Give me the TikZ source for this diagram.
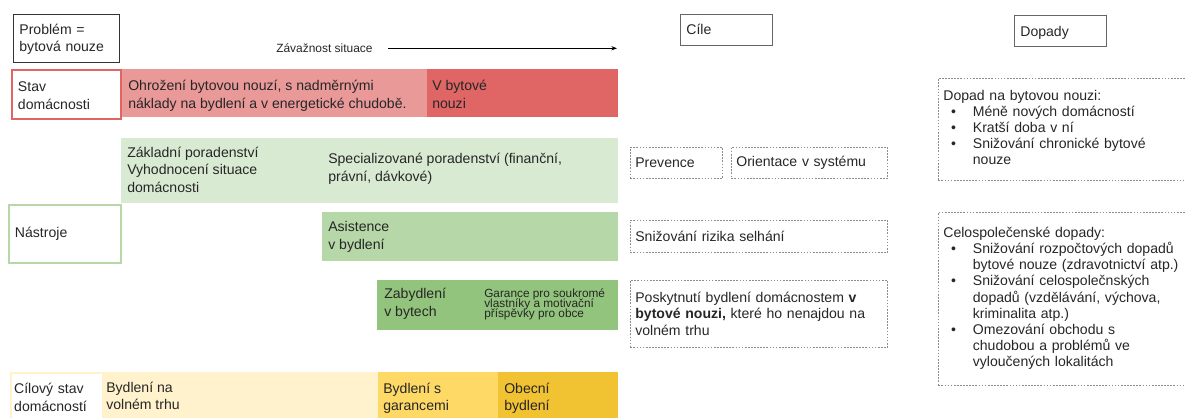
\documentclass[tikz,border=0pt]{standalone}
\usepackage{fontspec}
\setmainfont{Liberation Sans}
\usetikzlibrary{arrows.meta}

\definecolor{redlight}{HTML}{EA9999}
\definecolor{reddark}{HTML}{E06666}
\definecolor{greenlight}{HTML}{D9EAD3}
\definecolor{greenmid}{HTML}{B6D7A8}
\definecolor{greendark}{HTML}{93C47D}
\definecolor{yellowlight}{HTML}{FFF2CC}
\definecolor{yellowmid}{HTML}{FFD966}
\definecolor{yellowdark}{HTML}{F1C232}

\newcommand{\tightlines}{\lineskiplimit=-10pt\relax}

\begin{document}
\begin{tikzpicture}[
  x=0.025cm, y=-0.025cm,
  lbox/.style = {draw, anchor=north west, inner xsep=0.15cm, inner ysep=0pt,
                 align=left, text=black!85, font=\fontsize{10}{12.2}\selectfont},
  dbox/.style = {draw=black!45, dash pattern=on 1.2pt off 1pt, line width=0.5pt,
                 anchor=north west, inner xsep=0.125cm, inner ysep=0pt,
                 align=left, text=black!85, font=\fontsize{10}{11.4}\selectfont},
  btext/.style = {anchor=base west, inner sep=0pt, align=left, text=black!85,
                  font=\fontsize{10}{12.2}\selectfont},
  arr/.style = {-{Stealth[length=4pt,width=3pt]}, line width=0.5pt}
]
  \useasboundingbox (0,0) rectangle (1185,417);

  % header
  \node[lbox, draw=black!80, line width=0.6pt, text width=2.35cm,
        text height=0.5cm, text depth=0.7cm] (problem) at (13,14) {Problém =\\bytová nouze};
  \node[btext, font=\fontsize{8.5}{10}\selectfont] (severity) at (276,52) {Závažnost situace};
  \coordinate (sevend) at (617,49);
  \draw[arr, shorten <=11pt] (severity.mid east) -- (severity.mid east -| sevend);
  \node[lbox, draw=black!60, line width=0.5pt, text width=2cm,
        text height=0.5cm, text depth=0.275cm] (goals) at (680,14) {Cíle};
  \node[lbox, draw=black!60, line width=0.5pt, text width=2cm,
        text height=0.525cm, text depth=0.25cm] (impacts) at (1014,15) {Dopady};

  % stav domacnosti
  \fill[redlight] (120,69) rectangle (427,117);
  \fill[reddark]  (427,69) rectangle (618,117);
  \node[lbox, draw=reddark, line width=1.4pt, text width=2.425cm,
        text height=0.55cm, text depth=0.675cm] (state) at (11,69) {Stav\\domácnosti};
  \node[btext] (threat) at (128,108) {Ohrožení bytovou nouzí, s nadměrnými\\náklady na bydlení a v energetické chudobě.};
  \node[btext] (crisis) at (432,108) {V bytové\\nouzi};

  % nastroje
  \fill[greenlight] (121,138) rectangle (618,203);
  \fill[greenmid]   (322,212) rectangle (618,261);
  \fill[greendark]  (377,280) rectangle (618,330);
  \node[lbox, draw=greenmid, line width=1.4pt, text width=2.5cm,
        text height=0.8cm, text depth=0.65cm] (tools) at (8,204) {Nástroje};
  \node[btext] (basic) at (127,192) {Základní poradenství\\Vyhodnocení situace\\domácnosti};
  \node[btext] (special) at (328,181) {Specializované poradenství (finanční,\\právní, dávkové)};
  \node[btext] (assist) at (328,249) {Asistence\\v bydlení};
  \node[btext] (settle) at (384,316) {Zabydlení\\v bytech};
  \node[btext, font={\fontsize{8.4}{7.1}\selectfont\tightlines}] (guarantee) at (484,317)
       {Garance pro soukromé\\vlastníky a motivační\\příspěvky pro obce};

  % cile
  \node[dbox, minimum width=2.3cm, minimum height=0.775cm, text width=2.05cm] (prevention) at (630,147) {Prevence};
  \node[dbox, minimum width=3.9cm, minimum height=0.775cm, text width=3.65cm] (orientation) at (731,147) {Orientace v systému};
  \node[dbox, minimum width=6.425cm, minimum height=0.8cm, text width=6.175cm] (risk) at (630,220) {Snižování rizika selhání};
  \node[dbox, minimum width=6.425cm, minimum height=1.675cm, text width=6.175cm,
        font=\fontsize{10}{11.8}\selectfont] (provision) at (630,280)
       {Poskytnutí bydlení domácnostem \textbf{v}\\\textbf{bytové nouzi,} které ho nenajdou na\\volném trhu};

  % dopady
  \node[dbox, minimum width=6.6cm, minimum height=2.55cm, text width=6.35cm] (impactA) at (938,78)
       {\begin{tabular}[t]{@{\hspace{5.5pt}}p{15.5pt}@{}l@{}}
        \multicolumn{2}{@{}l@{}}{Dopad na bytovou nouzi:}\\
        \textbullet & Méně nových domácností\\
        \textbullet & Kratší doba v ní\\
        \textbullet & Snižování chronické bytové\\
                    & nouze
        \end{tabular}};
  \node[dbox, minimum width=6.6cm, minimum height=4.325cm, text width=6.35cm] (impactB) at (938,212)
       {\begin{tabular}[t]{@{\hspace{5.5pt}}p{15.5pt}@{}l@{}}
        \multicolumn{2}{@{}l@{}}{Celospolečenské dopady:}\\
        \textbullet & Snižování rozpočtových dopadů\\
                    & bytové nouze (zdravotnictví atp.)\\
        \textbullet & Snižování celospolečnských\\
                    & dopadů (vzdělávání, výchova,\\
                    & kriminalita atp.)\\
        \textbullet & Omezování obchodu s\\
                    & chudobou a problémů ve\\
                    & vyloučených lokalitách
        \end{tabular}};

  % cilovy stav
  \fill[yellowlight] (102,372) rectangle (378,420);
  \fill[yellowmid]   (378,372) rectangle (498,420);
  \fill[yellowdark]  (498,372) rectangle (618,420);
  \node[lbox, draw=yellowlight, line width=1.4pt, text width=2.45cm, inner xsep=0.08cm,
        text height=0.525cm, text depth=0.75cm] (target) at (10,372) {Cílový stav\\domácností};
  \node[btext, font=\fontsize{10}{11.4}\selectfont] (market) at (106,409) {Bydlení na\\volném trhu};
  \node[btext, font=\fontsize{10}{11.4}\selectfont] (guaranteed) at (383,410) {Bydlení s\\garancemi};
  \node[btext, font=\fontsize{10}{11.4}\selectfont] (municipal) at (504,410) {Obecní\\bydlení};
\end{tikzpicture}
\end{document}
